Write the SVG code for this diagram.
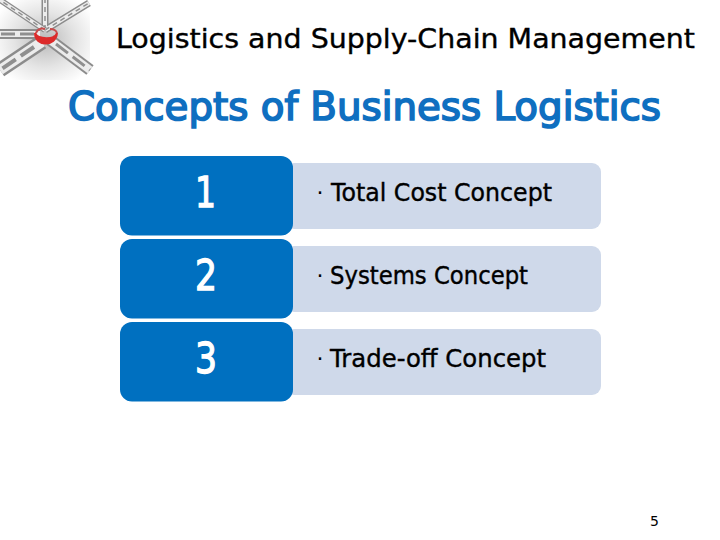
<svg xmlns="http://www.w3.org/2000/svg" width="720" height="540" viewBox="0 0 720 540">
<style>
text{font-family:"DejaVu Sans","Liberation Sans",sans-serif}
.title{font-size:26px;fill:#000;stroke:#000;stroke-width:.35px}
.head{font-size:39px;fill:#0f6fc0;stroke:#0f6fc0;stroke-width:1.7px}
.num{font-size:42px;fill:#fff;stroke:#fff;stroke-width:1.3px}
.item{font-size:25px;fill:#000;stroke:#000;stroke-width:.4px}
.dot{font-size:22px;fill:#000;text-anchor:middle}
.tag{fill:#0070c0}
.bar{fill:#cfd9ea}
.chain{fill:none}
.out{stroke:#8c8c8c}
.mid{stroke:#ececec}
.core{stroke:#8f8f8f}
</style>
<defs>
<radialGradient id="glow" cx="0.5" cy="0.5" r="0.62"><stop offset="0" stop-color="#b9b9b9"/><stop offset="0.55" stop-color="#e4e4e4"/><stop offset="1" stop-color="#fff"/></radialGradient>
</defs>
<g id="chain-picture">
<rect x="0" y="0" width="90" height="80" fill="url(#glow)"/>
<g class="chain">
<path class="out" stroke-width="7" d="M45 30L45 0M45 30L89 3"/>
<path class="mid" stroke-width="4" d="M45 30L45 0M45 30L89 3"/>
<path class="core" stroke-width="1.500" stroke-dasharray="5 4" d="M45 30L45 0M45 30L89 3"/>
<path class="out" stroke-width="6" d="M45 30L0 0"/>
<path class="mid" stroke-width="3.500" d="M45 30L0 0"/>
<path class="core" stroke-width="1.500" stroke-dasharray="5 4" d="M45 30L0 0"/>
<path class="out" stroke-width="10" d="M40 34L0 34"/>
<path class="mid" stroke-width="6" d="M40 34L0 34"/>
<path class="core" stroke-width="3" stroke-dasharray="14 5" d="M34 34L0 34"/>
<path class="out" stroke-width="15" d="M42 42L0 70"/>
<path class="mid" stroke-width="10" d="M42 42L0 70"/>
<path class="core" stroke-width="4" stroke-dasharray="16 6" d="M34 47L0 70"/>
<path class="out" stroke-width="12" d="M50 40L90 70"/>
<path class="mid" stroke-width="8" d="M50 40L90 70"/>
<path class="core" stroke-width="3" stroke-dasharray="15 6" d="M56 44L90 70"/>
</g>
<path d="M35 33C35 47 56 47 57 33C55 40 38 40 35 33Z" fill="#dc2b2b" stroke="#dc2b2b" stroke-width="2"/>
<path d="M36 33C38 28 43 28 45 29M50 29C53 29 56 30 57 33" fill="none" stroke="#c94b4b" stroke-width="2"/>
</g>
<text class="title" x="116" y="48" textLength="579" lengthAdjust="spacingAndGlyphs">Logistics and Supply-Chain Management</text>
<text class="head" x="68" y="120" textLength="593" lengthAdjust="spacingAndGlyphs">Concepts of Business Logistics</text>
<g id="row1">
<rect class="bar" x="285" y="163" width="316" height="66" rx="9"/>
<rect class="tag" x="120" y="156" width="173" height="79.500" rx="12"/>
<text class="num" x="195" y="207" textLength="21" lengthAdjust="spacingAndGlyphs">1</text>
<text class="dot" x="320" y="200">·</text>
<text class="item" x="331" y="201" textLength="221" lengthAdjust="spacingAndGlyphs">Total Cost Concept</text>
</g>
<g id="row2">
<rect class="bar" x="285" y="246" width="316" height="66" rx="9"/>
<rect class="tag" x="120" y="239" width="173" height="79.500" rx="12"/>
<text class="num" x="195" y="290" textLength="22" lengthAdjust="spacingAndGlyphs">2</text>
<text class="dot" x="320" y="283">·</text>
<text class="item" x="330" y="284" textLength="198" lengthAdjust="spacingAndGlyphs">Systems Concept</text>
</g>
<g id="row3">
<rect class="bar" x="285" y="329" width="316" height="66" rx="9"/>
<rect class="tag" x="120" y="322" width="173" height="79.500" rx="12"/>
<text class="num" x="195" y="373" textLength="22" lengthAdjust="spacingAndGlyphs">3</text>
<text class="dot" x="320" y="366">·</text>
<text class="item" x="330" y="367" textLength="216" lengthAdjust="spacingAndGlyphs">Trade-off Concept</text>
</g>
<text x="650" y="526" font-size="14" fill="#000">5</text>
<g id="connectors"/>
</svg>
